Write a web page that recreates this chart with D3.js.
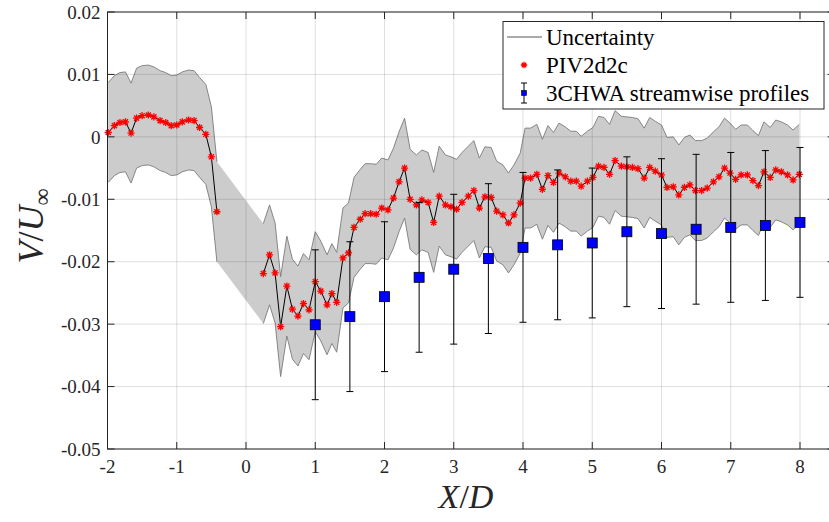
<!DOCTYPE html>
<html><head><meta charset="utf-8">
<script src="https://cdn.jsdelivr.net/npm/d3@7"></script>
<style>body{margin:0;background:#fff}svg{display:block}</style>
</head><body>
<svg id="chart" width="829" height="522"></svg>
<script>
// ---- Data ----
const pivXUpstream = [-1.99,-1.90,-1.82,-1.74,-1.66,-1.58,-1.50,-1.41,-1.33,-1.24,-1.16,-1.08,-1.00,-0.92,-0.83,-0.75,-0.67,-0.58,-0.50,-0.42];
const pivYUpstream = [0.0007,0.0018,0.0023,0.0024,0.0006,0.0030,0.0034,0.0035,0.0032,0.0026,0.0023,0.0018,0.0019,0.0024,0.0027,0.0026,0.0015,0.0004,-0.0032,-0.0120];
const pivXWake = [0.25,0.34,0.42,0.50,0.59,0.67,0.75,0.83,0.91,1.00,1.08,1.17,1.24,1.31,1.40,1.48,1.56,1.65,1.72,1.80,1.88,1.96,2.05,2.13,2.21,2.29,2.37,2.46,2.54,2.63,2.71,2.79,2.88,2.96,3.04,3.12,3.21,3.29,3.37,3.45,3.54,3.62,3.71,3.79,3.87,3.96,4.03,4.11,4.20,4.28,4.36,4.44,4.52,4.61,4.69,4.77,4.84,4.93,5.01,5.09,5.17,5.25,5.33,5.42,5.50,5.58,5.66,5.75,5.83,5.91,6.00,6.08,6.17,6.25,6.33,6.41,6.49,6.58,6.66,6.75,6.83,6.91,6.99,7.07,7.15,7.24,7.32,7.40,7.48,7.57,7.65,7.73,7.82,7.90,7.99];
const pivYWake = [-0.0219,-0.0189,-0.0218,-0.0304,-0.0239,-0.0276,-0.0287,-0.0267,-0.0277,-0.0232,-0.0247,-0.0269,-0.0251,-0.0265,-0.0194,-0.0186,-0.0145,-0.0132,-0.0123,-0.0123,-0.0124,-0.0114,-0.0117,-0.0098,-0.0072,-0.0050,-0.0100,-0.0109,-0.0101,-0.0105,-0.0137,-0.0095,-0.0109,-0.0112,-0.0116,-0.0105,-0.0095,-0.0086,-0.0114,-0.0096,-0.0097,-0.0119,-0.0125,-0.0138,-0.0125,-0.0106,-0.0066,-0.0066,-0.0060,-0.0084,-0.0062,-0.0073,-0.0058,-0.0064,-0.0071,-0.0071,-0.0079,-0.0071,-0.0065,-0.0047,-0.0049,-0.0060,-0.0038,-0.0047,-0.0048,-0.0049,-0.0051,-0.0066,-0.0049,-0.0055,-0.0061,-0.0081,-0.0080,-0.0093,-0.0081,-0.0077,-0.0086,-0.0086,-0.0082,-0.0072,-0.0064,-0.0050,-0.0058,-0.0068,-0.0061,-0.0061,-0.0070,-0.0078,-0.0056,-0.0065,-0.0053,-0.0056,-0.0061,-0.0069,-0.0060];
const pivUncertainty = 0.008;
const hwaX = [1,1.5,2,2.5,3,3.5,4,4.5,5,5.5,6,6.5,7,7.5,8];
const hwaY = [-0.0301,-0.0288,-0.0256,-0.0225,-0.0212,-0.0195,-0.0177,-0.0173,-0.0170,-0.0152,-0.0155,-0.0148,-0.0145,-0.0142,-0.0137];
const hwaErr = 0.012;
const xTicks = [-2,-1,0,1,2,3,4,5,6,7,8];
const xTickLabels = ["-2","-1","0","1","2","3","4","5","6","7","8"];
const yTicks = [0.02,0.01,0,-0.01,-0.02,-0.03,-0.04,-0.05];
const yTickLabels = ["0.02","0.01","0","-0.01","-0.02","-0.03","-0.04","-0.05"];
const legendLabels = ["Uncertainty","PIV2d2c","3CHWA streamwise profiles"];

// ---- Layout ----
const L = 107.5, T = 12, B = 449;
const unit = 69.25;
const xDomain = [-2, 8.5];
const R = L + (xDomain[1]-xDomain[0])*unit;
const x = d3.scaleLinear().domain(xDomain).range([L, R]);
const y = d3.scaleLinear().domain([-0.05, 0.02]).range([B, T]);
const serif = "'Liberation Serif','Times New Roman',serif";
const axisCol = "#262626";

const svg = d3.select("#chart");
svg.append("rect").attr("width",829).attr("height",522).attr("fill","#fff");

const segUp = pivXUpstream.map((v,i)=>({x:v,y:pivYUpstream[i]}));
const segWake = pivXWake.map((v,i)=>({x:v,y:pivYWake[i]}));
const all = segUp.concat(segWake);

// band fill
svg.append("path").datum(all)
  .attr("d", d3.area().x(d=>x(d.x)).y0(d=>y(d.y-pivUncertainty)).y1(d=>y(d.y+pivUncertainty)))
  .attr("fill","#cccccc").attr("stroke","none");
// band edges (only where data exists)
[segUp, segWake].forEach(seg=>{
  [1,-1].forEach(s=>{
    svg.append("path").datum(seg)
      .attr("d", d3.line().x(d=>x(d.x)).y(d=>y(d.y+s*pivUncertainty)))
      .attr("fill","none").attr("stroke","#7a7a7a").attr("stroke-width",0.9);
  });
});

// grid
const grid = svg.append("g").attr("stroke",axisCol).attr("stroke-opacity",0.15).attr("stroke-width",1);
xTicks.forEach(t=>grid.append("line").attr("x1",x(t)).attr("x2",x(t)).attr("y1",T).attr("y2",B));
yTicks.forEach(t=>grid.append("line").attr("x1",L).attr("x2",R).attr("y1",y(t)).attr("y2",y(t)));

// PIV line
[segUp, segWake].forEach(seg=>{
  svg.append("path").datum(seg)
    .attr("d", d3.line().x(d=>x(d.x)).y(d=>y(d.y)))
    .attr("fill","none").attr("stroke","#000").attr("stroke-width",1);
});
// asterisk markers
function star(g, cx, cy, r){
  let d = "";
  [0,45,90,135].forEach(a=>{
    const rad = a*Math.PI/180, dx = r*Math.cos(rad), dy = r*Math.sin(rad);
    d += `M${cx-dx},${cy-dy}L${cx+dx},${cy+dy}`;
  });
  g.append("path").attr("d",d).attr("stroke","#ff0000").attr("stroke-width",1.3).attr("fill","none");
}
const mk = svg.append("g");
all.forEach(d=>star(mk, x(d.x), y(d.y), 3.6));

// HWA error bars + squares
const eb = svg.append("g").attr("stroke","#000").attr("stroke-width",1);
hwaX.forEach((v,i)=>{
  const cx = x(v), y1 = y(hwaY[i]+hwaErr), y2 = y(hwaY[i]-hwaErr);
  eb.append("line").attr("x1",cx).attr("x2",cx).attr("y1",y1).attr("y2",y2);
  eb.append("line").attr("x1",cx-3.5).attr("x2",cx+3.5).attr("y1",y1).attr("y2",y1);
  eb.append("line").attr("x1",cx-3.5).attr("x2",cx+3.5).attr("y1",y2).attr("y2",y2);
});
const sq = 10;
svg.append("g").selectAll("rect").data(hwaX).join("rect")
  .attr("x",(d)=>x(d)-sq/2).attr("y",(d,i)=>y(hwaY[i])-sq/2)
  .attr("width",sq).attr("height",sq)
  .attr("fill","#0000ff").attr("stroke","#000").attr("stroke-width",0.8);

// axes box
const ax = svg.append("g").attr("stroke",axisCol).attr("stroke-width",1).attr("fill","none");
ax.append("rect").attr("x",L).attr("y",T).attr("width",R-L).attr("height",B-T);
const tl = 7;
xTicks.forEach(t=>{
  ax.append("line").attr("x1",x(t)).attr("x2",x(t)).attr("y1",B).attr("y2",B-tl);
  ax.append("line").attr("x1",x(t)).attr("x2",x(t)).attr("y1",T).attr("y2",T+tl);
});
yTicks.forEach(t=>{
  ax.append("line").attr("x1",L).attr("x2",L+tl).attr("y1",y(t)).attr("y2",y(t));
  ax.append("line").attr("x1",R).attr("x2",R-tl).attr("y1",y(t)).attr("y2",y(t));
});

// tick labels
const tk = svg.append("g").attr("font-family",serif).attr("font-size",19).attr("fill",axisCol);
xTicks.forEach((t,i)=>tk.append("text").attr("x",x(t)).attr("y",B+24).attr("text-anchor","middle").text(xTickLabels[i]));
yTicks.forEach((t,i)=>tk.append("text").attr("x",L-7).attr("y",y(t)).attr("dy","0.35em").attr("text-anchor","end").text(yTickLabels[i]));

// axis titles
const xl = svg.append("text").attr("x",466).attr("y",508).attr("text-anchor","middle")
  .attr("font-family",serif).attr("font-size",34).attr("fill",axisCol);
xl.append("tspan").attr("font-style","italic").text("X");
xl.append("tspan").text("/");
xl.append("tspan").attr("font-style","italic").text("D");

const yl = svg.append("text").attr("transform","translate(43,226) rotate(-90)").attr("text-anchor","middle")
  .attr("font-family",serif).attr("font-size",36).attr("fill",axisCol);
yl.append("tspan").attr("font-style","italic").text("V");
yl.append("tspan").text("/");
yl.append("tspan").attr("font-style","italic").text("U");
yl.append("tspan").attr("font-size",24).attr("dy",7).text("∞");

// legend
const lg = svg.append("g");
lg.append("rect").attr("x",503).attr("y",21.5).attr("width",321).attr("height",87.5)
  .attr("fill","#fff").attr("stroke",axisCol).attr("stroke-width",1);
const lgY = [37, 65, 93];
lg.append("line").attr("x1",507).attr("x2",542).attr("y1",lgY[0]).attr("y2",lgY[0]).attr("stroke","#555").attr("stroke-width",1);
star(lg, 524, lgY[1], 3.2);
lg.append("line").attr("x1",524).attr("x2",524).attr("y1",lgY[2]-10).attr("y2",lgY[2]+10).attr("stroke","#000");
lg.append("line").attr("x1",521).attr("x2",527).attr("y1",lgY[2]-10).attr("y2",lgY[2]-10).attr("stroke","#000");
lg.append("line").attr("x1",521).attr("x2",527).attr("y1",lgY[2]+10).attr("y2",lgY[2]+10).attr("stroke","#000");
lg.append("rect").attr("x",521.5).attr("y",lgY[2]-2.5).attr("width",5).attr("height",5).attr("fill","#0000ff").attr("stroke","#000").attr("stroke-width",0.6);
legendLabels.forEach((s,i)=>lg.append("text").attr("x",546).attr("y",lgY[i]).attr("dy","0.33em")
  .attr("font-family",serif).attr("font-size",23).attr("fill","#000").text(s));
</script>
</body></html>
